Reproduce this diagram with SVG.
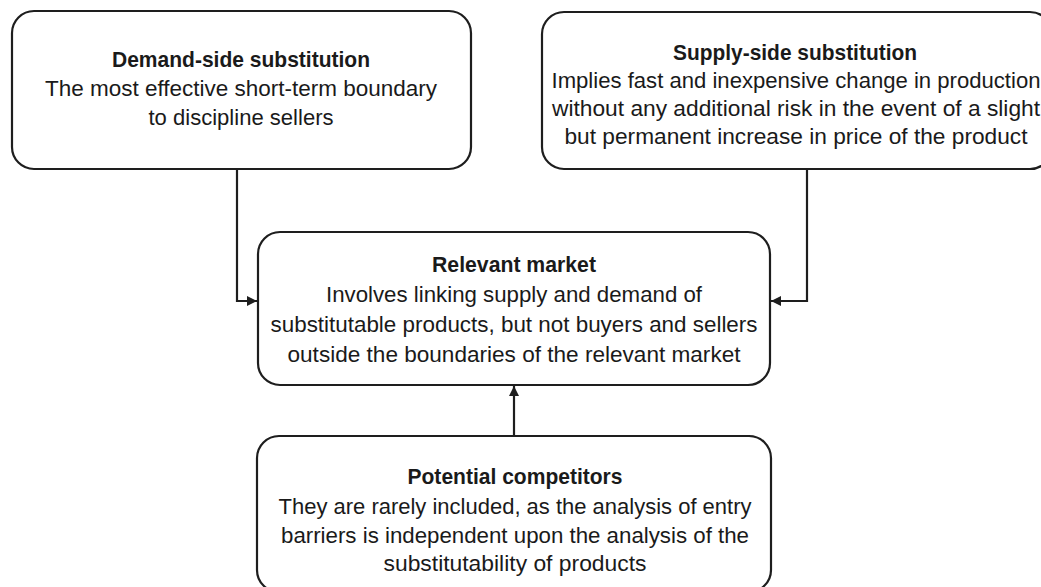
<svg xmlns="http://www.w3.org/2000/svg" width="1041" height="587" viewBox="0 0 1041 587">
  <defs>
    <style>
      .box { fill: #ffffff; stroke: #1e1e1e; stroke-width: 2.2; }
      .title { font-family: "Liberation Sans", Arial, sans-serif; font-size: 22px; font-weight: bold; fill: #1a1a1a; text-anchor: middle; }
      .body { font-family: "Liberation Sans", Arial, sans-serif; font-size: 22px; fill: #1a1a1a; text-anchor: middle; }
      .link { fill: none; stroke: #1e1e1e; stroke-width: 2.2; }
    </style>
    <marker id="arrow" viewBox="0 0 10 10" refX="10" refY="5" markerWidth="10" markerHeight="10" markerUnits="userSpaceOnUse" orient="auto">
      <path d="M0,0 L10,5 L0,10 Z" fill="#1e1e1e"/>
    </marker>
  </defs>

  <rect width="1041" height="587" fill="#ffffff"/>

  <!-- connectors -->
  <g id="connectors">
    <path class="link" d="M237,169 V301 H257" marker-end="url(#arrow)"/>
    <path class="link" d="M807,169 V301 H771" marker-end="url(#arrow)"/>
    <path class="link" d="M514,436 V386" marker-end="url(#arrow)"/>
  </g>

  <!-- demand side -->
  <g id="demand-side">
    <rect class="box" x="12" y="11" width="459" height="158" rx="22" ry="22"/>
    <text class="title" x="241" y="67" textLength="258" lengthAdjust="spacingAndGlyphs">Demand-side substitution</text>
    <text class="body" x="241" y="96" textLength="392" lengthAdjust="spacingAndGlyphs">The most effective short-term boundary</text>
    <text class="body" x="241" y="125" textLength="185" lengthAdjust="spacingAndGlyphs">to discipline sellers</text>
  </g>

  <!-- supply side -->
  <g id="supply-side">
    <rect class="box" x="542" y="12" width="510" height="157" rx="22" ry="22"/>
    <text class="title" x="795" y="60" textLength="244" lengthAdjust="spacingAndGlyphs">Supply-side substitution</text>
    <text class="body" x="796" y="88" textLength="489" lengthAdjust="spacingAndGlyphs">Implies fast and inexpensive change in production</text>
    <text class="body" x="796" y="116" textLength="488" lengthAdjust="spacingAndGlyphs">without any additional risk in the event of a slight</text>
    <text class="body" x="796" y="144" textLength="463" lengthAdjust="spacingAndGlyphs">but permanent increase in price of the product</text>
  </g>

  <!-- relevant market -->
  <g id="relevant-market">
    <rect class="box" x="258" y="232" width="512" height="153" rx="22" ry="22"/>
    <text class="title" x="514" y="272" textLength="164" lengthAdjust="spacingAndGlyphs">Relevant market</text>
    <text class="body" x="514" y="302" textLength="376" lengthAdjust="spacingAndGlyphs">Involves linking supply and demand of</text>
    <text class="body" x="514" y="332" textLength="487" lengthAdjust="spacingAndGlyphs">substitutable products, but not buyers and sellers</text>
    <text class="body" x="514" y="362" textLength="453" lengthAdjust="spacingAndGlyphs">outside the boundaries of the relevant market</text>
  </g>

  <!-- potential competitors -->
  <g id="potential-competitors">
    <rect class="box" x="257" y="436" width="514" height="156" rx="22" ry="22"/>
    <text class="title" x="515" y="484" textLength="215" lengthAdjust="spacingAndGlyphs">Potential competitors</text>
    <text class="body" x="515" y="514" textLength="473" lengthAdjust="spacingAndGlyphs">They are rarely included, as the analysis of entry</text>
    <text class="body" x="515" y="543" textLength="468" lengthAdjust="spacingAndGlyphs">barriers is independent upon the analysis of the</text>
    <text class="body" x="515" y="571" textLength="263" lengthAdjust="spacingAndGlyphs">substitutability of products</text>
  </g>
</svg>
